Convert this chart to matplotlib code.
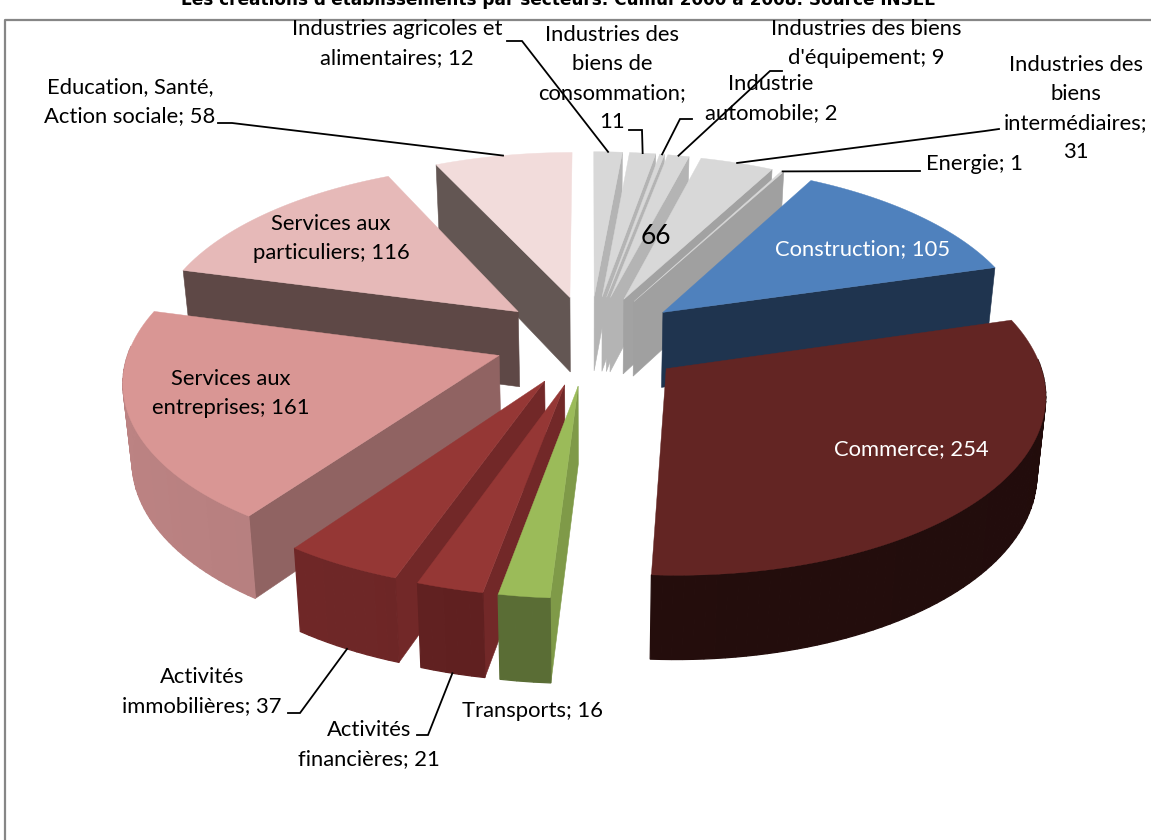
import numpy as np
import matplotlib
matplotlib.use('Agg')
import matplotlib.pyplot as plt
from matplotlib.colors import to_rgb
from matplotlib.patches import Polygon

# clockwise from 12 o'clock
labels = ["Industries agricoles et alimentaires", "Industries des biens de consommation",
          "Industrie automobile", "Industries des biens d'équipement",
          "Industries des biens intermédiaires", "Energie", "Construction", "Commerce",
          "Transports", "Activités financières", "Activités immobilières",
          "Services aux entreprises", "Services aux particuliers",
          "Education, Santé, Action sociale"]
values = [12, 11, 2, 9, 31, 1, 105, 254, 16, 21, 37, 161, 116, 58]

top_colors = ['#D8D8D8', '#D8D8D8', '#D8D8D8', '#D8D8D8', '#D8D8D8', '#D8D8D8', '#4F81BD',
              '#632523', '#9BBB59', '#953735', '#953735', '#D99694', '#E6B9B8', '#F2DCDB']
side_colors = ['#B4B4B4', '#B4B4B4', '#B4B4B4', '#B4B4B4', '#A2A2A2', '#A0A0A0', '#1F344F',
               '#260E0D', '#7F9A48', '#722828', '#722828', '#906362', '#5E4846', '#635653']
arc_colors = ['#B4B4B4', '#B4B4B4', '#B4B4B4', '#B4B4B4', '#A2A2A2', '#A0A0A0', '#1F344F',
              '#260E0D', '#5F7338', '#652222', '#722828', '#BC8383', '#5E4846', '#635653']

title = "Les créations d'établissements par secteurs. Cumul 2000 à 2008. Source INSEE"
total_label = "66"

# slice label lines: lines, centre x, first line y, colour
slice_text = [
    (["Industries agricoles et", "alimentaires; 12"], 397, 29, 'black'),
    (["Industries des", "biens de", "consommation;", "11"], 612, 35, 'black'),
    (["Industries des biens", "d'équipement; 9"], 866, 29, 'black'),
    (["Industrie", "automobile; 2"], 771, 84, 'black'),
    (["Industries des", "biens", "intermédiaires;", "31"], 1076, 65, 'black'),
    (["Energie; 1"], 975, 164, 'black'),
    (["Construction; 105"], 863, 249, 'white'),
    (["Commerce; 254"], 911, 449, 'white'),
    (["Transports; 16"], 533, 711, 'black'),
    (["Activités", "financières; 21"], 369, 730, 'black'),
    (["Activités", "immobilières; 37"], 202, 677, 'black'),
    (["Services aux", "entreprises; 161"], 231, 379, 'black'),
    (["Services aux", "particuliers; 116"], 331, 224, 'black'),
    (["Education, Santé,", "Action sociale; 58"], 130, 87, 'black'),
]

# leader line elbows, from slice index, in picture pixels
leaders = {
    0: [(522, 41), (507, 41)],
    1: [(642, 130), (629, 130)],
    2: [(680, 119), (692, 119)],
    3: [(770, 71), (782, 71)],
    4: [(985, 131), (999, 129)],
    5: [(920, 171)],
    9: [(428, 735), (417, 735)],
    10: [(300, 713), (288, 713)],
    13: [(232, 123), (218, 123)],
}

# projection of the tilted pie, fitted on the picture
CX, CY = 590.0, 340.0
A, B, H = 367.5, 173.0, 76.0
K, M = 0.125, 0.02
EXPLODE = 0.26


def project(X, Y, z=0.0):
    X = np.asarray(X, dtype=float)
    Y = np.asarray(Y, dtype=float)
    s = 1.0 / (1.0 - K * Y)
    b = 1.0 / (1.0 + M * z)
    return np.column_stack([CX + A * X * s * b, CY + s * (B * Y * b + H * z)])


def shade(color, f):
    return tuple(min(1, c * f) for c in to_rgb(color))


fig = plt.figure(figsize=(11.51, 8.40), dpi=100)
ax = fig.add_axes([0, 0, 1, 1])
ax.set_xlim(0, 1151)
ax.set_ylim(840, 0)
ax.axis('off')

# chart frame
ax.plot([1151, 5.5, 5.5], [19.5, 19.5, 840], color='#868686', lw=1.6, zorder=1)

total = float(sum(values))
edges = np.concatenate([[0], np.cumsum(values)]) / total * 2 * np.pi

slices = []
for i in range(len(values)):
    a0, a1 = edges[i], edges[i + 1]
    mid = (a0 + a1) / 2
    ox, oy = EXPLODE * np.sin(mid), -EXPLODE * np.cos(mid)
    th = np.linspace(a0, a1, max(3, int((a1 - a0) * 40)))
    slices.append((-np.cos(mid) + oy, i, th, ox, oy, mid))

anchors = {}
z = 2
for _, i, th, ox, oy, mid in sorted(slices, key=lambda t: t[0]):
    X = np.sin(th) + ox
    Y = -np.cos(th) + oy
    # radial faces, only the ones turned to the viewer
    for a, visible in ((th[0], np.sin(th[0]) < 0), (th[-1], np.sin(th[-1]) > 0)):
        if not visible:
            continue
        xs = [ox, ox + np.sin(a)]
        ys = [oy, oy - np.cos(a)]
        pts = np.vstack([project(xs, ys), project(xs[::-1], ys[::-1], 1.0)])
        ax.add_patch(Polygon(pts, closed=True, fc=side_colors[i], ec=side_colors[i], lw=0.4, zorder=z))
    # outer rim in short strips, a little darker towards the right
    for j in range(len(th) - 1):
        if np.cos(th[j]) > 0.05 and np.cos(th[j + 1]) > 0.05:
            continue
        xs = X[j:j + 2]
        ys = Y[j:j + 2]
        pts = np.vstack([project(xs, ys), project(xs[::-1], ys[::-1], 1.0)])
        f = 1.0 - 0.12 * (np.sin(th[j]) + 1) / 2
        c = shade(arc_colors[i], f)
        ax.add_patch(Polygon(pts, closed=True, fc=c, ec=c, lw=0.9, zorder=z))
    top = np.vstack([project([ox], [oy]), project(X, Y)])
    ax.add_patch(Polygon(top, closed=True, fc=top_colors[i], ec=top_colors[i], lw=0.3, zorder=z))
    z += 1
    # leader starts on the rim, below it for the front slices
    depth = 1.0 if np.cos(mid) < 0 else 0.0
    anchors[i] = project([np.sin(mid) + ox], [-np.cos(mid) + oy], depth)[0]

for i, stops in leaders.items():
    pts = np.vstack([anchors[i], np.array(stops)])
    ax.plot(pts[:, 0], pts[:, 1], color='black', lw=1.3, zorder=60, solid_joinstyle='miter')

for lines, x, y, color in slice_text:
    for n, line in enumerate(lines):
        ax.text(x, y + n * 29, line, ha='center', va='center', color=color,
                fontsize=15.8, family='Lato', zorder=70)

ax.text(656, 236, total_label, ha='center', va='center', fontsize=19, family='Lato', zorder=70)
ax.text(558, 5, title, ha='center', va='baseline', fontsize=12.2, fontweight='bold',
        family='DejaVu Sans', zorder=70)

fig.savefig('out.png', dpi=100)
